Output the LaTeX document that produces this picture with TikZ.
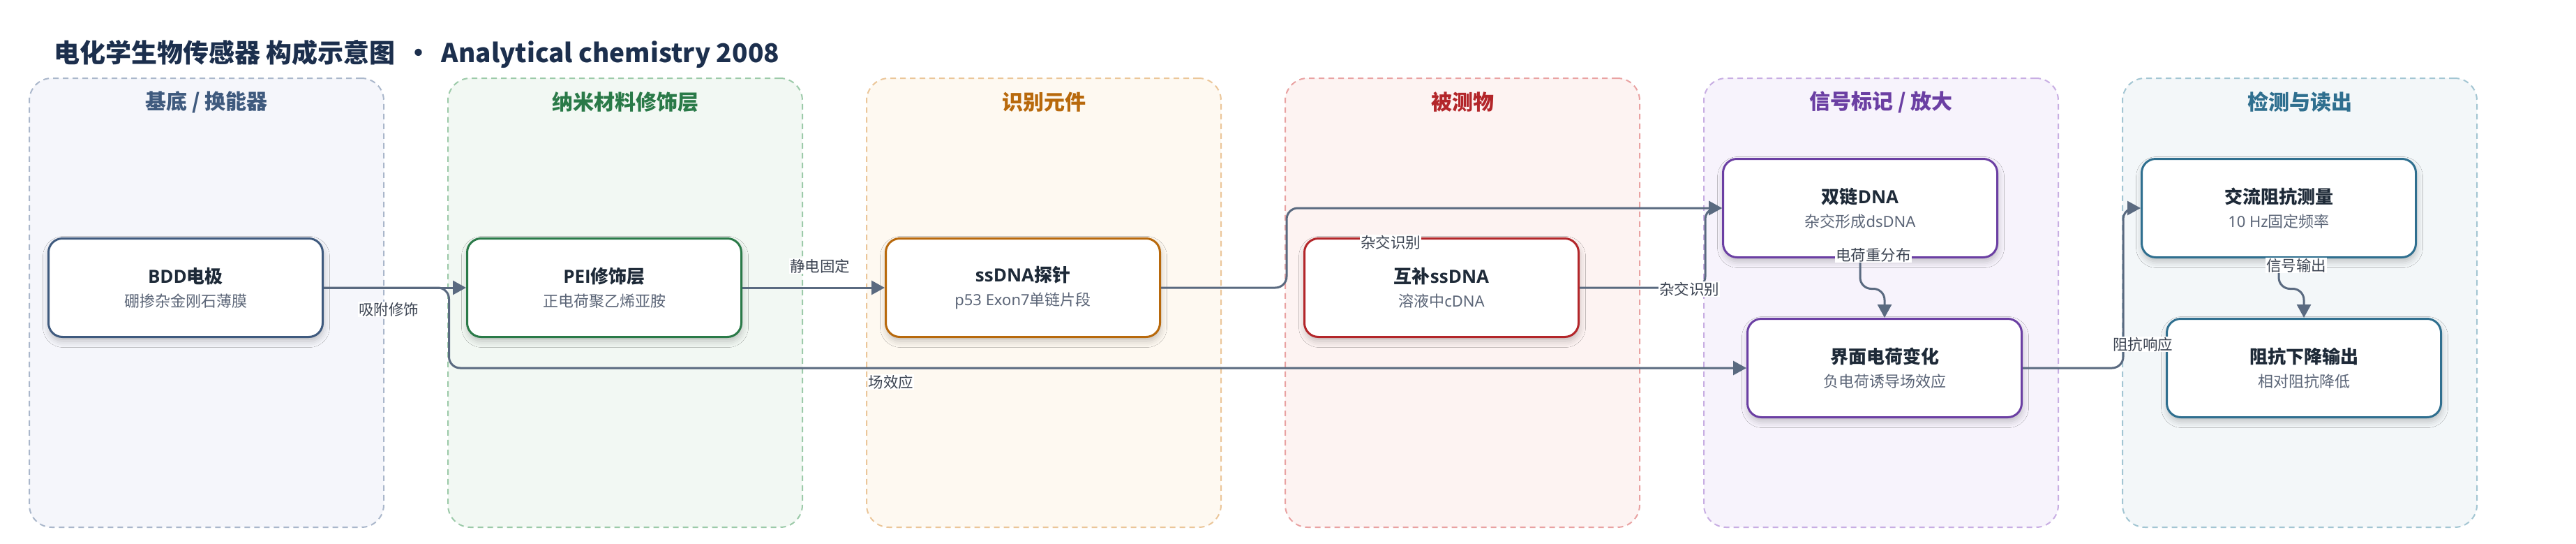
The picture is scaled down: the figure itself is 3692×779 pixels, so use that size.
\documentclass[tikz,border=0pt]{standalone}
\usepackage{fontspec}
\setmainfont{Noto Sans CJK SC}
\newfontfamily\lat{Noto Sans}
\newfontfamily\latb{Open Sans}
\usetikzlibrary{arrows.meta,shadows.blur,calc}
\definecolor{titlec}{HTML}{1C2F4D}
\definecolor{ink}{HTML}{1E2A38}
\definecolor{subc}{HTML}{5B6577}
\definecolor{edgec}{HTML}{5A6A80}
\definecolor{lblc}{HTML}{3C4452}
\definecolor{fA}{HTML}{F5F6FB}\definecolor{dA}{HTML}{AAB7CB}\definecolor{cA}{HTML}{3F5A7E}
\definecolor{fB}{HTML}{F2F8F3}\definecolor{dB}{HTML}{9CCAA9}\definecolor{cB}{HTML}{2A7A48}
\definecolor{fC}{HTML}{FEF9F1}\definecolor{dC}{HTML}{EBC699}\definecolor{cC}{HTML}{B8690C}
\definecolor{fD}{HTML}{FDF3F2}\definecolor{dD}{HTML}{E9A2A2}\definecolor{cD}{HTML}{B3262A}
\definecolor{fE}{HTML}{F7F3FC}\definecolor{dE}{HTML}{C8AEE3}\definecolor{cE}{HTML}{6B3FA3}
\definecolor{fF}{HTML}{F3F7F9}\definecolor{dF}{HTML}{A3C6D3}\definecolor{cF}{HTML}{2F6F8F}
\tikzset{
  grp/.style n args={2}{rectangle, rounded corners=32pt, fill=#1, draw=#2, line width=2pt,
    dash pattern=on 8pt off 6pt, minimum width=508pt, minimum height=643pt, inner sep=0pt},
  gtitle/.style={text=#1, font=\fontsize{30}{36}\selectfont\bfseries, inner sep=0pt},
  box/.style={rectangle, rounded corners=20pt, draw=#1, line width=3pt, fill=white,
    minimum width=393pt, minimum height=141pt, align=center, text=ink, inner sep=0pt,
    font=\fontsize{22}{34}\selectfont,
    blur shadow={shadow xshift=1pt, shadow yshift=-6pt, shadow blur radius=9pt, shadow opacity=22}},
  conn/.style={draw=edgec, line width=3pt, rounded corners=16pt,
    -{Triangle[length=19pt,width=20pt]}},
  elabel/.style={fill=white, inner sep=1pt, text=lblc, font=\fontsize{21.5}{24}\selectfont},
}
\newcommand{\ttl}[1]{{\fontsize{26}{34}\selectfont\bfseries #1}}
\newcommand{\sbt}[1]{{\color{subc}#1}}
\begin{document}
\begin{tikzpicture}[x=1pt,y=-1pt]
\useasboundingbox[fill=white] (0,0) rectangle (3692,779);
% title
\node[anchor=west, inner sep=0pt, text=titlec, font=\fontsize{37}{44}\selectfont\bfseries] (title) at (77,77)
  {电化学生物传感器 构成示意图 \,·\, Analytical chemistry 2008};
% groups
\node[grp={fA}{dA}] (g1) at (296,433.5) {};
\node[grp={fB}{dB}] (g2) at (896,433.5) {};
\node[grp={fC}{dC}] (g3) at (1496,433.5) {};
\node[grp={fD}{dD}] (g4) at (2096,433.5) {};
\node[grp={fE}{dE}] (g5) at (2696,433.5) {};
\node[grp={fF}{dF}] (g6) at (3296,433.5) {};
\node[gtitle=cA] (t1) at (296,146) {基底 / 换能器};
\node[gtitle=cB] (t2) at (896,146) {纳米材料修饰层};
\node[gtitle=cC] (t3) at (1496,146) {识别元件};
\node[gtitle=cD] (t4) at (2096,146) {被测物};
\node[gtitle=cE] (t5) at (2696,146) {信号标记 / 放大};
\node[gtitle=cF] (t6) at (3296,146) {检测与读出};
% nodes
\node[box=cA] (B) at (266,412) {\ttl{{\latb BDD}电极}\\ \sbt{硼掺杂金刚石薄膜}};
\node[box=cB] (P) at (866,412) {\ttl{{\latb PEI}修饰层}\\ \sbt{正电荷聚乙烯亚胺}};
\node[box=cC] (S) at (1466,412) {\ttl{{\latb ssDNA}探针}\\ \sbt{{\lat p53 Exon7}单链片段}};
\node[box=cD] (C) at (2066,412) {\ttl{互补{\latb ssDNA}}\\ \sbt{溶液中{\lat cDNA}}};
\node[box=cE] (D) at (2666,298) {\ttl{双链{\latb DNA}}\\ \sbt{杂交形成{\lat dsDNA}}};
\node[box=cE] (J) at (2701,527) {\ttl{界面电荷变化}\\ \sbt{负电荷诱导场效应}};
\node[box=cF] (A) at (3266,298) {\ttl{交流阻抗测量}\\ \sbt{{\lat 10 Hz}固定频率}};
\node[box=cF] (R) at (3302,527) {\ttl{阻抗下降输出}\\ \sbt{相对阻抗降低}};
% connectors
\draw[conn] (B.east) -- (P.west);
\draw[conn] (B.east) -- ++(179.5,0) |- (J.west);
\draw[conn] (P.east) -- (S.west);
\draw[conn] (S.east) -- ++(180,0) |- (D.west);
\draw[conn] (C.east) -- ++(180,0) |- (D.west);
\draw[conn] (D.south) -- ++(0,43.5) -| (J.north);
\draw[conn] (J.east) -- ++(144,0) |- (A.west);
\draw[conn] (A.south) -- ++(0,43.5) -| (R.north);
% labels
\node[elabel] (l1) at (557,443) {吸附修饰};
\node[elabel] (l2) at (1277,547) {场效应};
\node[elabel] (l3) at (1175,381) {静电固定};
\node[elabel] (l4) at (1993,347) {杂交识别};
\node[elabel] (l5) at (2421,414) {杂交识别};
\node[elabel] (l6) at (2685,365) {电荷重分布};
\node[elabel] (l7) at (3071,493) {阻抗响应};
\node[elabel] (l8) at (3291,380) {信号输出};
\end{tikzpicture}
\end{document}
